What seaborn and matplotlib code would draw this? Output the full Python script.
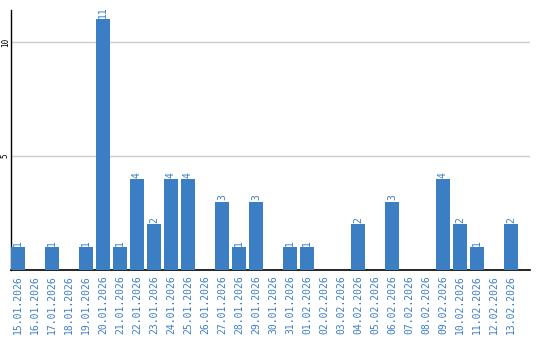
import matplotlib
matplotlib.use("Agg")
import matplotlib.pyplot as plt
import seaborn as sns
import pandas as pd

dates = ["15.01.2026", "16.01.2026", "17.01.2026", "18.01.2026", "19.01.2026",
         "20.01.2026", "21.01.2026", "22.01.2026", "23.01.2026", "24.01.2026",
         "25.01.2026", "26.01.2026", "27.01.2026", "28.01.2026", "29.01.2026",
         "30.01.2026", "31.01.2026", "01.02.2026", "02.02.2026", "03.02.2026",
         "04.02.2026", "05.02.2026", "06.02.2026", "07.02.2026", "08.02.2026",
         "09.02.2026", "10.02.2026", "11.02.2026", "12.02.2026", "13.02.2026"]
values = [1, 0, 1, 0, 1, 11, 1, 4, 2, 4, 4, 0, 3, 1, 3, 0, 1, 1, 0, 0,
          2, 0, 3, 0, 0, 4, 2, 1, 0, 2]
yticks = [5, 10]

df = pd.DataFrame({"date": dates, "value": values})

sns.set_theme(style="white")
plt.rcParams["font.family"] = ["DejaVu Sans Mono", "DejaVu Sans"]

blue = "#3b7ec3"
fig = plt.figure(figsize=(5.4, 3.4), dpi=100)
ax = fig.add_axes([11 / 540, 70 / 340, 519 / 540, 260 / 340])

sns.barplot(data=df, x="date", y="value", color=blue, width=0.82,
            saturation=1, ax=ax, zorder=3, linewidth=0)

for i, v in enumerate(values):
    if v > 0:
        ax.text(i, v + 0.05, str(v), rotation=90, ha="center", va="bottom",
                color=blue, fontsize=7)

ax.set_xlim(-0.41, 30.12)
ax.set_ylim(0, 11.4)
ax.set_yticks(yticks)
ax.set_yticklabels([str(t) for t in yticks], rotation=90, va="center",
                   ha="center", fontsize=5.5, color="black")
ax.yaxis.grid(True, color="#cccccc", linewidth=1, zorder=0)
ax.set_axisbelow(True)
ax.tick_params(axis="y", length=0, pad=4)
ax.tick_params(axis="x", length=0, pad=4)
ax.set_xticks(range(len(dates)))
ax.set_xticklabels(dates, rotation=90, fontsize=7, color=blue)
ax.set_xlabel("")
ax.set_ylabel("")
for s in ["top", "right"]:
    ax.spines[s].set_visible(False)
ax.spines["left"].set_color("black")
ax.spines["bottom"].set_color("black")
ax.spines["left"].set_linewidth(1)
ax.spines["bottom"].set_linewidth(1.2)

fig.savefig("out.png", dpi=100)
